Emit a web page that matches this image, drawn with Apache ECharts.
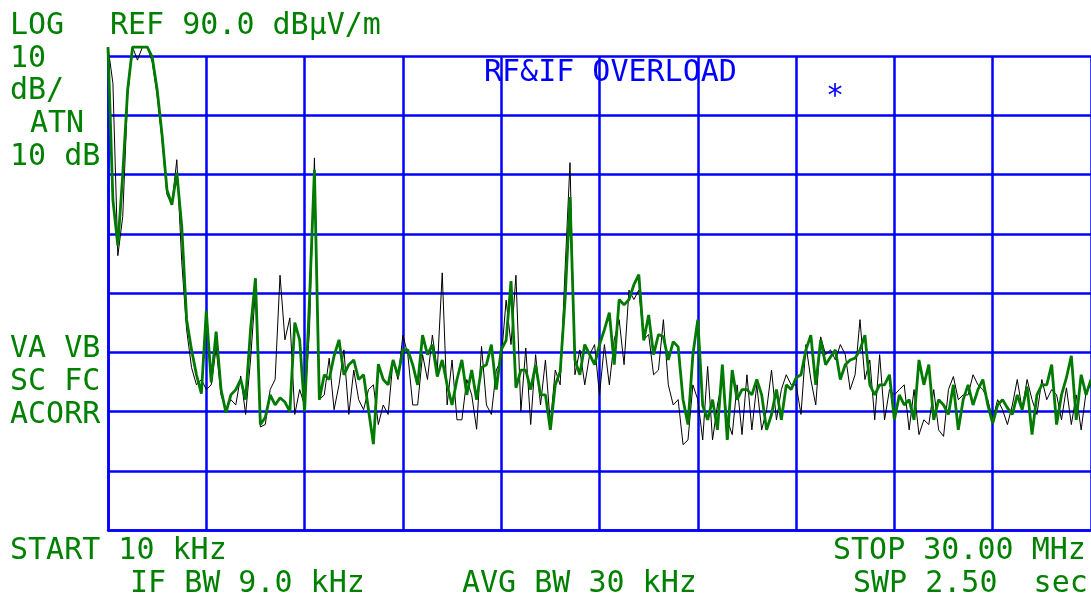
<!DOCTYPE html>
<html>
<head>
<meta charset="utf-8">
<script src="https://cdn.jsdelivr.net/npm/echarts@6/dist/echarts.min.js"></script>
<style>
  html, body { margin: 0; padding: 0; background: #fff; }
  #chart { width: 1091px; height: 599px; }
</style>
</head>
<body>
<div id="chart"></div>
<script>
// sweep 10 kHz .. 30 MHz, 201 points, 10 dB/div, ref 90 dBuV/m
var refLevel = 90;
var bottomLevel = 10;
var dbPerDiv = 10;
var sweepPoints = 200;

// green trace (thick)
var traceGreen = [
  91.5, 65.7, 58.0, 70.0, 84.3, 91.5, 91.5, 91.5, 91.5, 89.8,
  84.3, 76.7, 67.4, 64.9, 70.3, 61.3, 45.5, 40.4, 36.2, 33.0,
  47.0, 34.9, 43.5, 33.7, 29.8, 32.8, 33.7, 35.4, 32.0, 43.8,
  52.5, 27.8, 29.0, 32.8, 31.1, 32.3, 31.6, 30.0, 45.0, 42.1,
  30.0, 48.9, 70.8, 32.0, 36.2, 35.4, 39.4, 42.1, 36.2, 37.9,
  38.7, 35.4, 36.2, 30.3, 24.5, 38.0, 35.4, 34.5, 38.7, 36.0,
  40.4, 40.4, 37.9, 34.5, 42.9, 39.6, 41.3, 35.9, 38.7, 34.5,
  31.1, 35.4, 38.7, 32.8, 37.0, 32.0, 37.4, 37.9, 41.3, 33.7,
  40.4, 42.0, 52.0, 34.0, 37.0, 37.0, 33.7, 37.9, 32.8, 32.8,
  26.9, 34.5, 36.7, 48.9, 66.2, 38.7, 36.2, 41.3, 39.6, 37.9,
  41.3, 43.8, 46.7, 37.9, 48.9, 48.0, 48.9, 51.4, 53.1, 42.0,
  46.3, 39.6, 43.0, 42.6, 38.7, 41.8, 40.9, 32.0, 27.8, 39.6,
  45.5, 31.0, 28.6, 32.0, 26.9, 37.9, 25.2, 37.0, 32.0, 33.7,
  33.7, 32.8, 35.4, 32.8, 26.9, 29.5, 33.7, 28.6, 34.5, 33.7,
  35.7, 36.2, 40.4, 42.9, 34.5, 42.1, 37.9, 39.2, 40.4, 35.4,
  37.9, 38.7, 39.0, 40.4, 42.9, 34.5, 32.8, 34.5, 34.5, 36.2,
  28.6, 32.8, 31.1, 32.0, 28.6, 38.7, 34.5, 37.9, 28.6, 32.0,
  31.1, 29.5, 34.5, 26.9, 32.0, 34.5, 31.1, 33.7, 35.4, 31.1,
  28.0, 31.1, 32.0, 30.6, 29.5, 32.8, 30.3, 34.2, 26.1, 32.8,
  34.5, 34.5, 37.9, 27.8, 32.8, 35.7, 39.4, 28.6, 36.2, 32.8,
  35.4
];

// black trace (thin)
var traceBlack = [
  91.5, 85.4, 56.3, 62.9, 83.4, 91.5, 89.3, 91.5, 91.5, 89.0,
  83.4, 75.8, 66.6, 64.9, 72.5, 55.3, 43.8, 37.4, 34.5, 35.4,
  33.7, 34.5, 40.7, 32.8, 30.3, 32.0, 31.1, 36.0, 29.5, 38.7,
  50.5, 27.4, 27.8, 33.7, 35.4, 53.0, 42.1, 45.8, 29.5, 33.7,
  31.0, 43.8, 72.8, 32.0, 32.8, 39.0, 30.3, 34.5, 40.4, 29.5,
  37.0, 32.0, 30.3, 33.7, 34.5, 27.8, 31.1, 29.5, 38.7, 35.4,
  42.9, 39.6, 31.1, 31.1, 39.6, 35.4, 42.9, 37.0, 53.4, 31.1,
  38.7, 28.6, 28.6, 35.4, 32.8, 27.0, 41.0, 31.1, 29.5, 37.0,
  38.7, 48.8, 41.3, 53.0, 30.0, 40.7, 27.8, 39.6, 31.1, 38.7,
  27.8, 37.0, 34.5, 54.0, 72.0, 36.2, 40.4, 34.5, 39.6, 41.3,
  32.8, 41.3, 34.5, 42.1, 45.5, 37.9, 50.5, 48.9, 50.5, 42.1,
  43.0, 36.2, 37.0, 45.5, 34.5, 31.1, 32.0, 24.4, 25.2, 34.5,
  32.0, 25.2, 37.6, 25.2, 31.1, 35.4, 28.6, 26.1, 34.5, 26.1,
  36.2, 26.9, 34.5, 26.9, 30.3, 37.0, 28.6, 33.7, 36.2, 34.5,
  34.5, 29.5, 41.3, 35.4, 31.1, 42.6, 39.6, 40.4, 38.7, 41.3,
  39.6, 33.7, 36.2, 45.5, 35.4, 38.7, 28.6, 39.6, 28.6, 33.7,
  32.8, 33.7, 34.5, 26.9, 33.7, 26.1, 28.6, 27.8, 33.7, 26.9,
  25.8, 33.7, 35.9, 32.0, 32.8, 32.8, 36.2, 34.5, 33.7, 32.0,
  28.6, 32.0, 30.3, 27.8, 31.1, 35.4, 30.3, 35.4, 32.0, 29.5,
  35.4, 32.0, 33.7, 32.8, 28.6, 34.0, 27.8, 32.8, 26.9, 33.3,
  34.5
];

var gridBlue = '#0000ff';
var textGreen = '#008000';
var font = '30px "DejaVu Sans Mono"';

function toPairs(arr) {
  return arr.map(function (v, i) { return [i, v]; });
}

function label(txt, x, y, color) {
  return {
    type: 'text',
    left: x,
    top: y,
    style: { text: txt, font: font, fill: color || textGreen }
  };
}

var chart = echarts.init(document.getElementById('chart'));
var option = {
  animation: false,
  backgroundColor: '#ffffff',
  grid: { left: 108, top: 56, width: 985, height: 474 },
  xAxis: {
    type: 'value',
    min: 0,
    max: sweepPoints,
    interval: sweepPoints / 10,
    axisLabel: { show: false },
    axisTick: { show: false },
    axisLine: { show: true, lineStyle: { color: gridBlue, width: 2.5 } },
    splitLine: { show: true, lineStyle: { color: gridBlue, width: 2.5 } }
  },
  yAxis: {
    type: 'value',
    min: bottomLevel,
    max: refLevel,
    interval: dbPerDiv,
    axisLabel: { show: false },
    axisTick: { show: false },
    axisLine: { show: true, lineStyle: { color: gridBlue, width: 2.5 } },
    splitLine: { show: true, lineStyle: { color: gridBlue, width: 2.5 } }
  },
  series: [
    {
      type: 'line',
      data: toPairs(traceBlack),
      showSymbol: false,
      clip: false,
      lineStyle: { color: '#000000', width: 1 },
      z: 3
    },
    {
      type: 'line',
      data: toPairs(traceGreen),
      showSymbol: false,
      clip: false,
      lineStyle: { color: '#007a00', width: 2.8 },
      z: 4
    }
  ],
  graphic: [
    label('LOG', 10, 11),
    label('REF 90.0 dBµV/m', 110, 11),
    label('10', 10, 44),
    label('dB/', 10, 76),
    label('ATN', 30, 109),
    label('10 dB', 10, 142),
    label('VA VB', 10, 334),
    label('SC FC', 10, 367),
    label('ACORR', 10, 400),
    label('START 10 kHz', 10, 536),
    label('STOP 30.00 MHz', 833, 536),
    label('IF BW 9.0 kHz', 130, 569),
    label('AVG BW 30 kHz', 462, 569),
    label('SWP 2.50  sec', 853, 569),
    label('RF&IF OVERLOAD', 484, 58, gridBlue),
    label('*', 826, 82, gridBlue)
  ]
};
chart.setOption(option);
</script>
</body>
</html>
